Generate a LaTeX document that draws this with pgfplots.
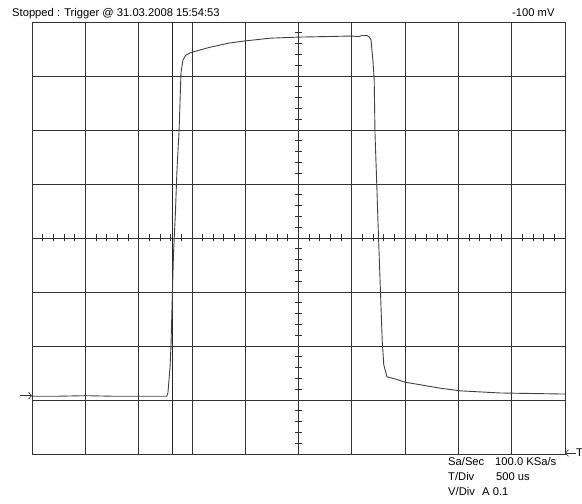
\documentclass[border=0pt]{standalone}
\usepackage{fontspec}
\setmainfont{Liberation Sans}
\usepackage{pgfplots}
\pgfplotsset{compat=1.18}
\usetikzlibrary{arrows.meta}
\begin{document}
\begin{tikzpicture}[x=1bp,y=1bp]
\begin{axis}[at={(32bp,50bp)}, anchor=south west, scale only axis,
  width=533bp, height=432bp,
  xmin=0, xmax=10, ymin=-4, ymax=4,
  xtick={0,...,10}, ytick={-4,...,4},
  xticklabels={}, yticklabels={},
  major tick length=0pt,
  grid=major,
  grid style={black!80, line width=0.8bp},
  axis line style={black!80, line width=0.8bp},
  clip=false]
% graticule minor ticks on centre lines
\pgfplotsinvokeforeach{0.2,0.4,...,9.81}{
  \draw[black!80, line width=0.8bp] ([yshift=-3.5bp]axis cs:#1,0) -- ([yshift=3.5bp]axis cs:#1,0);
}
\pgfplotsinvokeforeach{-3.8,-3.6,...,3.81}{
  \draw[black!80, line width=0.8bp] ([xshift=-3.5bp]axis cs:5,#1) -- ([xshift=3.5bp]axis cs:5,#1);
}
% cursor line
\draw[black!85, line width=0.8bp] (axis cs:2.627,-4) -- (axis cs:2.627,4);
% trace
\addplot[black!75, line width=0.9bp] coordinates {
(0,-2.93) (0.5,-2.93) (1,-2.92) (1.5,-2.93) (2,-2.93) (2.53,-2.93)
(2.55,-2.87) (2.59,-2.39) (2.608,-1.98) (2.636,-0.96) (2.655,-0.28)
(2.69,0.45) (2.72,1.26) (2.76,2.0) (2.795,3.06) (2.833,3.30) (2.889,3.39)
(3.0,3.44) (3.33,3.53) (3.7,3.61) (4.0,3.65) (4.47,3.70) (5.0,3.72)
(6.0,3.74) (6.12,3.73) (6.2,3.75) (6.28,3.75) (6.32,3.73) (6.36,3.67)
(6.40,3.24) (6.42,2.93) (6.435,1.94) (6.47,0.94) (6.49,0.33) (6.53,-0.78)
(6.57,-1.89) (6.60,-2.35) (6.66,-2.57) (6.81,-2.61) (7.0,-2.67)
(7.65,-2.78) (8.03,-2.83) (8.78,-2.87) (10,-2.89)
};
\end{axis}
\fontsize{11.2bp}{13bp}\selectfont
\node[anchor=base west, inner sep=0pt] at (12,487) {Stopped : Trigger @ 31.03.2008 15:54:53};
\node[anchor=base west, inner sep=0pt] at (512,487) {-100 mV};
\node[anchor=base west, inner sep=0pt] at (448,38) {Sa/Sec};
\node[anchor=base west, inner sep=0pt] at (495,38) {100.0 KSa/s};
\node[anchor=base west, inner sep=0pt] at (448,23) {T/Div};
\node[anchor=base west, inner sep=0pt] at (496,23) {500 us};
\node[anchor=base west, inner sep=0pt] at (448,8) {V/Div};
\node[anchor=base west, inner sep=0pt] at (482,8) {A 0.1};
\draw[black!80, line width=0.7bp, -{Straight Barb[length=3bp,width=7bp]}] (20,108.3) -- (32,108.3);
\draw[black!80, line width=0.7bp, -{Straight Barb[length=3bp,width=7bp]}] (576,51) -- (565,51);
\node[anchor=base west, inner sep=0pt] at (576,47) {T};
\pgfresetboundingbox
\path[use as bounding box] (0,0) rectangle (582,504);
\end{tikzpicture}
\end{document}
